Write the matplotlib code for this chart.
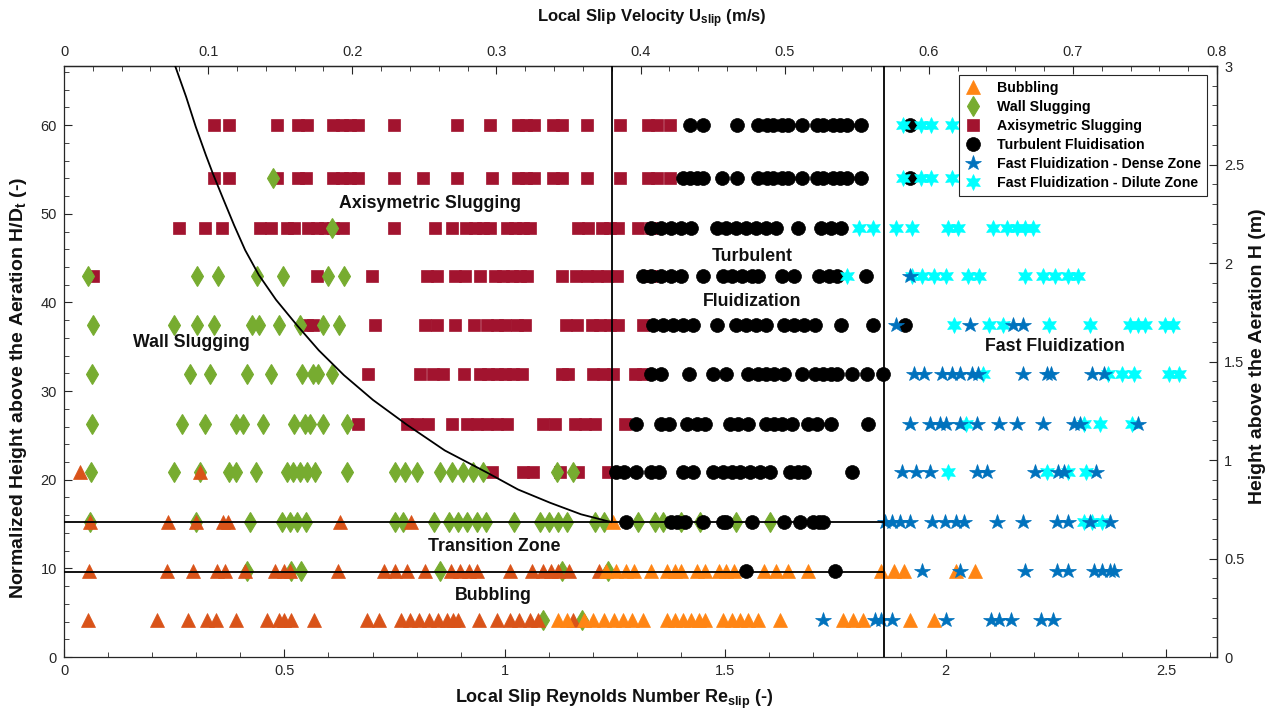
import matplotlib
matplotlib.use("Agg")
import matplotlib.pyplot as plt
from matplotlib.ticker import FixedLocator, FuncFormatter

plt.rcParams["font.family"] = ["Liberation Sans", "DejaVu Sans"]
plt.rcParams["mathtext.fontset"] = "custom"
plt.rcParams["mathtext.rm"] = "Liberation Sans"
plt.rcParams["mathtext.bf"] = "Liberation Sans:bold"
plt.rcParams["mathtext.it"] = "Liberation Sans:italic"

# ---------------------------------------------------------------- data
# measurement heights (normalised H/D_t) of the eleven probe levels
hd_rows = [4.2, 9.7, 15.2, 20.9, 26.3, 31.9, 37.4, 43.0, 48.4, 54.0, 60.0]

# local slip Reynolds numbers, one list per height level (bottom -> top)
bubbling_a_re = [
    [0.054, 0.211, 0.281, 0.324, 0.345, 0.390, 0.460, 0.488, 0.499, 0.515, 0.567, 0.687, 0.715,
     0.765, 0.785, 0.805, 0.828, 0.849, 0.869, 0.883, 0.894, 0.941, 0.982, 1.012, 1.032, 1.057,
     1.075, 1.155],
    [0.057, 0.234, 0.293, 0.347, 0.365, 0.411, 0.479, 0.499, 0.513, 0.622, 0.726, 0.751, 0.778,
     0.819, 0.878, 0.898, 0.919, 0.937, 1.012, 1.062, 1.087, 1.105, 1.121, 1.146, 1.214],
    [0.059, 0.236, 0.299, 0.361, 0.372, 0.626, 0.787],
    [0.036, 0.309],
    [], [], [], [], [], [], [],
]

bubbling_b_re = [
    [1.121, 1.141, 1.180, 1.200, 1.225, 1.248, 1.268, 1.289, 1.314, 1.368, 1.386, 1.405, 1.423,
     1.441, 1.454, 1.495, 1.516, 1.534, 1.552, 1.575, 1.624, 1.767, 1.790, 1.813, 1.919, 1.974],
    [1.230, 1.252, 1.275, 1.293, 1.332, 1.368, 1.386, 1.400, 1.436, 1.454, 1.486, 1.502, 1.520,
     1.588, 1.615, 1.643, 1.688, 1.853, 1.883, 1.906, 2.024, 2.067],
    [1.245],
    [], [], [], [], [], [], [], [],
]

wall_slug_re = [
    [1.087, 1.175],
    [0.415, 0.515, 0.538, 0.853, 1.130, 1.234],
    [0.059, 0.299, 0.422, 0.495, 0.513, 0.529, 0.549, 0.751, 0.769, 0.839, 0.873, 0.894, 0.914,
     0.937, 0.957, 1.021, 1.080, 1.100, 1.121, 1.141, 1.205, 1.225, 1.302, 1.341, 1.359, 1.400,
     1.443, 1.525, 1.602],
    [0.061, 0.250, 0.309, 0.374, 0.390, 0.436, 0.506, 0.520, 0.535, 0.551, 0.569, 0.642, 0.751,
     0.774, 0.801, 0.853, 0.880, 0.905, 0.928, 0.951, 1.118, 1.155],
    [0.064, 0.268, 0.320, 0.390, 0.406, 0.451, 0.522, 0.547, 0.558, 0.588, 0.642],
    [0.064, 0.286, 0.331, 0.415, 0.470, 0.540, 0.565, 0.576, 0.608],
    [0.066, 0.250, 0.302, 0.340, 0.427, 0.442, 0.488, 0.535, 0.588, 0.624],
    [0.054, 0.302, 0.349, 0.438, 0.497, 0.599, 0.635],
    [0.608],
    [0.474],
    [],
]

axi_slug_re = [
    [], [], [],
    [0.971, 1.041, 1.064, 1.125, 1.166, 1.234],
    [0.667, 0.778, 0.801, 0.826, 0.880, 0.914, 0.937, 0.960, 0.982, 1.005, 1.087, 1.114, 1.159,
     1.182, 1.205, 1.273],
    [0.690, 0.808, 0.837, 0.860, 0.908, 0.944, 0.962, 0.982, 1.000, 1.019, 1.039, 1.130, 1.143,
     1.200, 1.223, 1.245, 1.295, 1.314],
    [0.551, 0.565, 0.706, 0.819, 0.846, 0.887, 0.930, 0.960, 0.982, 1.000, 1.028, 1.046, 1.139,
     1.164, 1.198, 1.216, 1.239, 1.257, 1.314],
    [0.066, 0.574, 0.699, 0.824, 0.846, 0.887, 0.910, 0.944, 0.978, 0.996, 1.016, 1.035, 1.050,
     1.130, 1.162, 1.187, 1.209, 1.232, 1.255, 1.332],
    [0.261, 0.320, 0.358, 0.445, 0.470, 0.506, 0.522, 0.554, 0.574, 0.592, 0.610, 0.633, 0.749,
     0.842, 0.880, 0.912, 0.933, 0.951, 0.967, 1.005, 1.023, 1.041, 1.057, 1.166, 1.189, 1.221,
     1.239, 1.257, 1.302, 1.332],
    [0.340, 0.374, 0.483, 0.531, 0.549, 0.610, 0.631, 0.649, 0.667, 0.749, 0.815, 0.892, 0.971,
     1.030, 1.048, 1.066, 1.110, 1.130, 1.187, 1.262, 1.325, 1.346, 1.375],
    [0.340, 0.374, 0.483, 0.531, 0.551, 0.610, 0.631, 0.649, 0.667, 0.749, 0.892, 0.967, 1.030,
     1.048, 1.066, 1.110, 1.130, 1.187, 1.262, 1.325, 1.346, 1.375],
]

turbulent_re = [
    [],
    [1.547, 1.749],
    [1.275, 1.377, 1.391, 1.409, 1.450, 1.495, 1.502, 1.561, 1.634, 1.670, 1.699, 1.713, 1.722],
    [1.252, 1.271, 1.298, 1.332, 1.350, 1.405, 1.427, 1.472, 1.495, 1.516, 1.534, 1.556, 1.579,
     1.602, 1.647, 1.665, 1.679, 1.788],
    [1.298, 1.355, 1.373, 1.413, 1.436, 1.454, 1.511, 1.529, 1.552, 1.593, 1.611, 1.629, 1.652,
     1.688, 1.709, 1.740, 1.824],
    [1.332, 1.355, 1.418, 1.472, 1.502, 1.552, 1.575, 1.593, 1.611, 1.634, 1.675, 1.704, 1.722,
     1.740, 1.754, 1.788, 1.822, 1.858],
    [1.336, 1.359, 1.382, 1.405, 1.427, 1.482, 1.525, 1.547, 1.570, 1.593, 1.634, 1.656, 1.679,
     1.704, 1.763, 1.836, 1.908],
    [1.314, 1.332, 1.355, 1.377, 1.400, 1.450, 1.495, 1.516, 1.538, 1.561, 1.575, 1.629, 1.656,
     1.713, 1.736, 1.754, 1.820],
    [1.332, 1.355, 1.377, 1.400, 1.423, 1.482, 1.502, 1.525, 1.547, 1.570, 1.593, 1.615, 1.665,
     1.718, 1.740, 1.763],
    [1.405, 1.420, 1.436, 1.450, 1.493, 1.527, 1.575, 1.595, 1.609, 1.629, 1.643, 1.675, 1.709,
     1.722, 1.745, 1.761, 1.777, 1.808, 1.920],
    [1.420, 1.450, 1.527, 1.575, 1.595, 1.609, 1.629, 1.643, 1.675, 1.709, 1.722, 1.745, 1.761,
     1.777, 1.808, 1.920],
]

fast_dense_re = [
    [1.722, 1.840, 1.853, 1.878, 2.001, 2.103, 2.121, 2.148, 2.216, 2.244],
    [1.946, 2.033, 2.180, 2.253, 2.278, 2.337, 2.355, 2.373, 2.382],
    [1.862, 1.878, 1.897, 1.919, 1.969, 1.999, 2.024, 2.042, 2.117, 2.176, 2.253, 2.278, 2.328,
     2.373],
    [1.901, 1.933, 1.965, 2.071, 2.094, 2.203, 2.255, 2.269, 2.341],
    [1.919, 1.965, 1.987, 2.001, 2.033, 2.071, 2.121, 2.162, 2.221, 2.291, 2.305, 2.437],
    [1.928, 1.951, 1.992, 2.015, 2.033, 2.060, 2.074, 2.176, 2.230, 2.239, 2.332, 2.359],
    [1.888, 2.055, 2.153, 2.176],
    [1.919],
    [], [], [],
]

fast_dilute_re = [
    [], [],
    [2.314, 2.332, 2.355],
    [2.006, 2.230, 2.278, 2.318],
    [2.046, 2.314, 2.350, 2.423],
    [2.085, 2.368, 2.400, 2.427, 2.507, 2.529],
    [2.019, 2.098, 2.130, 2.235, 2.328, 2.418, 2.437, 2.452, 2.498, 2.516],
    [1.777, 1.924, 1.946, 1.974, 2.001, 2.051, 2.076, 2.180, 2.221, 2.248, 2.278, 2.300],
    [1.804, 1.836, 1.888, 1.924, 2.006, 2.028, 2.108, 2.139, 2.162, 2.180, 2.198],
    [1.904, 1.945, 1.967, 2.015],
    [1.904, 1.945, 1.967, 2.015],
]

# regime boundaries
wall_axi_curve_re = [0.252, 0.277, 0.299, 0.322, 0.338, 0.361, 0.386, 0.411, 0.442, 0.481,
                     0.529, 0.578, 0.635, 0.701, 0.778, 0.864, 0.960, 1.030, 1.103, 1.173, 1.243]
wall_axi_curve_hd = [66.7, 63.2, 59.8, 56.6, 54.5, 51.7, 48.7, 45.9, 43.1, 40.3,
                     37.4, 34.6, 31.8, 29.0, 26.2, 23.3, 20.8, 18.9, 17.4, 16.1, 15.2]
slug_turb_re = 1.243
turb_fast_re = 1.860
transition_top_hd = 15.2
bubbling_top_hd = 9.6

# axis ranges and tick values
re_max, hd_max = 2.616, 66.67
u_max, h_max = 0.8, 3.0
re_ticks = [0, 0.5, 1, 1.5, 2, 2.5]
hd_ticks = [0, 10, 20, 30, 40, 50, 60]
u_ticks = [0, 0.1, 0.2, 0.3, 0.4, 0.5, 0.6, 0.7, 0.8]
h_ticks = [0, 0.5, 1, 1.5, 2, 2.5, 3]

regime_labels = ["Axisymetric Slugging", "Turbulent", "Fluidization", "Wall Slugging",
                 "Fast Fluidization", "Transition Zone", "Bubbling"]
regime_label_re = [0.830, 1.561, 1.561, 0.288, 2.248, 0.975, 0.975]
regime_label_hd = [51.2, 45.2, 40.1, 35.5, 35.0, 12.5, 6.9]

# ---------------------------------------------------------------- figure
fig = plt.figure(figsize=(12.7, 7.12), dpi=100)
ax = fig.add_axes([0.0504, 0.0772, 0.9079, 0.8301])


def scatter_rows(rows_re, **kw):
    xs, ys = [], []
    for hd, res in zip(hd_rows, rows_re):
        xs.extend(res)
        ys.extend([hd] * len(res))
    return ax.plot(xs, ys, linestyle="none", **kw)


c_bub_dark = "#D95319"
c_bub = "#FF8514"
c_wall = "#77AC30"
c_axi = "#A2142F"
c_turb = "#000000"
c_dense = "#0072BD"
c_dilute = "#00FFFF"

scatter_rows(axi_slug_re, marker="s", ms=8.0, color=c_axi, mec=c_axi, mew=0.5, zorder=2,
             label="Axisymetric Slugging")
scatter_rows(wall_slug_re, marker="d", ms=10.0, color=c_wall, mec=c_wall, mew=0.8, zorder=3,
             label="Wall Slugging")
scatter_rows(bubbling_a_re, marker="^", ms=10.5, color=c_bub_dark, mec=c_bub_dark, mew=0.5,
             zorder=3.5)
scatter_rows(bubbling_b_re, marker="^", ms=10.5, color=c_bub, mec=c_bub, mew=0.5, zorder=3.6,
             label="Bubbling")
scatter_rows(turbulent_re, marker="o", ms=10.0, color=c_turb, mec=c_turb, mew=0.5, zorder=4,
             label="Turbulent Fluidisation")
scatter_rows(fast_dilute_re, marker=(6, 1, 0), ms=11.5, color=c_dilute, mec=c_dilute, mew=0.5,
             zorder=4.5, label="Fast Fluidization - Dilute Zone")
scatter_rows(fast_dense_re, marker="*", ms=11.5, color=c_dense, mec=c_dense, mew=0.5, zorder=5,
             label="Fast Fluidization - Dense Zone")

# regime boundaries
line_kw = dict(color="black", lw=1.3, zorder=6, solid_capstyle="butt", solid_joinstyle="round")
ax.plot(wall_axi_curve_re, wall_axi_curve_hd, **line_kw)
ax.plot([slug_turb_re, slug_turb_re], [transition_top_hd, hd_max], **line_kw)
ax.plot([turb_fast_re, turb_fast_re], [0, hd_max], **line_kw)
ax.plot([0, turb_fast_re], [transition_top_hd, transition_top_hd], **line_kw)
ax.plot([0, turb_fast_re], [bubbling_top_hd, bubbling_top_hd], **line_kw)

for txt, xr, yh in zip(regime_labels, regime_label_re, regime_label_hd):
    ax.text(xr, yh, txt, ha="center", va="center", fontsize=12.8, fontweight="bold",
            color="#111111", zorder=7)

# axes, ticks
ax.set_xlim(0, re_max)
ax.set_ylim(0, hd_max)
spine_c = "#262626"
for s in ax.spines.values():
    s.set_color(spine_c)
    s.set_linewidth(0.9)


def minor_between(major, n=5):
    out = []
    for a, b in zip(major[:-1], major[1:]):
        step = (b - a) / n
        out.extend(a + step * k for k in range(1, n))
    return out


fmt = FuncFormatter(lambda v, p: f"{v:g}")
ax.xaxis.set_major_locator(FixedLocator(re_ticks))
ax.xaxis.set_minor_locator(FixedLocator(minor_between(re_ticks + [3.0])))
ax.yaxis.set_major_locator(FixedLocator(hd_ticks))
ax.yaxis.set_minor_locator(FixedLocator(minor_between(hd_ticks + [70])))
ax.xaxis.set_major_formatter(fmt)
ax.yaxis.set_major_formatter(fmt)
ax.tick_params(which="both", direction="in", colors=spine_c, labelcolor="#262626",
               labelsize=10.5, top=False, right=False)
ax.tick_params(which="major", length=6, width=0.8, pad=5)
ax.tick_params(which="minor", length=3.5, width=0.6)

re_to_u = u_max / re_max
hd_to_h = h_max / hd_max
top = ax.secondary_xaxis("top", functions=(lambda x: x * re_to_u, lambda u: u / re_to_u))
right = ax.secondary_yaxis("right", functions=(lambda y: y * hd_to_h, lambda h: h / hd_to_h))
top.xaxis.set_major_locator(FixedLocator(u_ticks))
top.xaxis.set_minor_locator(FixedLocator(minor_between(u_ticks)))
top.xaxis.set_major_formatter(fmt)
right.yaxis.set_major_locator(FixedLocator(h_ticks))
right.yaxis.set_minor_locator(FixedLocator(minor_between(h_ticks)))
right.yaxis.set_major_formatter(fmt)
for sec in (top, right):
    sec.tick_params(which="both", direction="in", colors=spine_c, labelcolor="#262626",
                    labelsize=10.5)
    sec.tick_params(which="major", length=6, width=0.8, pad=5)
    sec.tick_params(which="minor", length=3.5, width=0.6)
    for s in sec.spines.values():
        s.set_color(spine_c)
        s.set_linewidth(0.9)

lab_kw = dict(fontweight="bold", color="#111111")
fig.text(0.484, 0.017, r"Local Slip Reynolds Number Re$_{\mathbf{slip}}$ (-)",
         ha="center", va="center", fontsize=13, **lab_kw)
fig.text(0.513, 0.974, r"Local Slip Velocity U$_{\mathbf{slip}}$ (m/s)",
         ha="center", va="center", fontsize=12, **lab_kw)
fig.text(0.0145, 0.455, r"Normalized Height above the Aeration H/D$_{\mathbf{t}}$ (-)",
         ha="center", va="center", rotation=90, fontsize=14, **lab_kw)
fig.text(0.9905, 0.5, "Height above the Aeration H (m)",
         ha="center", va="center", rotation=90, fontsize=14, **lab_kw)

# legend
handles, labels = ax.get_legend_handles_labels()
order = ["Bubbling", "Wall Slugging", "Axisymetric Slugging", "Turbulent Fluidisation",
         "Fast Fluidization - Dense Zone", "Fast Fluidization - Dilute Zone"]
hmap = dict(zip(labels, handles))
leg = ax.legend([hmap[k] for k in order], order, loc="upper right",
                bbox_to_anchor=(0.991, 0.985), borderaxespad=0, fancybox=False,
                framealpha=1, edgecolor="#262626", prop=dict(weight="bold", size=10.2),
                handlelength=1.2, handletextpad=1.1, borderpad=0.4, labelspacing=0.36,
                numpoints=1)
leg.get_frame().set_linewidth(0.8)
leg.set_zorder(10)

fig.savefig("out.png", dpi=100)
